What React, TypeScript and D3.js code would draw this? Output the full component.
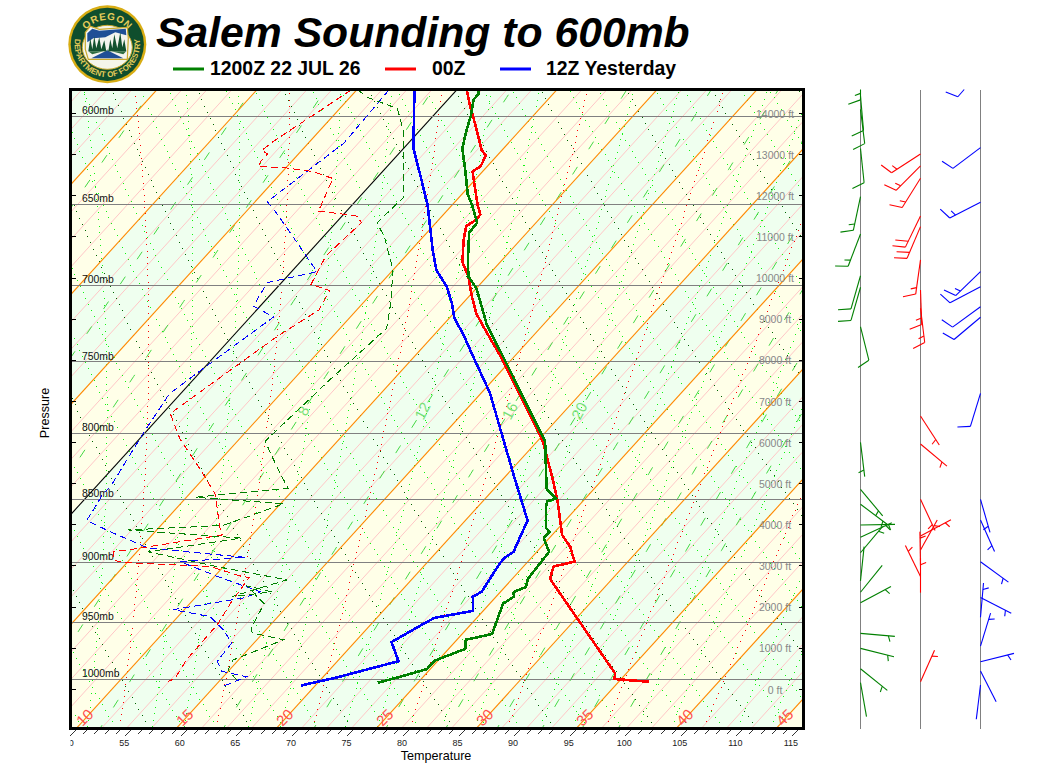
import { useEffect, useRef } from 'react';
import * as d3 from 'd3';

const FONT = '"Liberation Sans", Arial, sans-serif';

// Temperature traces, degrees F by pressure level (mb)
const morningPressure = [586, 588, 591, 600, 608, 618, 630, 644, 650.5, 661, 667, 682, 694, 701.5, 725, 747.5, 806, 835, 842, 849, 851, 856, 872, 875, 880, 891, 913, 920, 924, 928, 934, 960, 965, 973, 983.5, 991, 998, 1003.4];
const morningTemp = [33.9, 34.3, 34.3, 35.4, 36.2, 37.3, 39.3, 41.5, 42.8, 44.7, 44.8, 46.7, 48.3, 50.0, 53.9, 58.2, 68.7, 72.0, 72.8, 74.4, 73.8, 74.2, 75.9, 76.5, 76.5, 78.1, 78.4, 78.9, 78.2, 78.6, 78.2, 79.7, 77.8, 78.5, 76.7, 76.7, 74.9, 73.4];
const eveningPressure = [586, 595, 600, 619, 622, 628, 631, 650.5, 656, 659, 663, 671.5, 685, 694, 707, 718, 729, 747.5, 806, 835, 850, 877.5, 887, 893, 899, 903, 913, 915.5, 995, 1000, 1002.5];
const eveningTemp = [32.9, 34.6, 35.6, 39.2, 40.0, 40.4, 40.1, 43.3, 44.3, 44.4, 44.0, 44.9, 46.6, 48.3, 50.3, 52.1, 54.3, 58.0, 68.5, 72.6, 74.6, 77.9, 79.6, 80.4, 81.2, 79.7, 80.4, 80.8, 94.0, 94.4, 97.7];
const yesterdayPressure = [586, 618, 632, 650.5, 678, 690, 700.5, 711, 721, 731, 747.5, 771.5, 800, 835, 866, 891, 895.5, 900, 924, 928, 940, 946, 951, 967, 984, 998.5, 1006];
const yesterdayTemp = [28.2, 32.9, 35.5, 38.8, 43.0, 44.9, 47.2, 49.0, 50.5, 52.5, 55.5, 59.8, 64.1, 69.2, 73.6, 74.9, 74.6, 74.6, 75.3, 74.9, 76.1, 73.2, 72.7, 71.3, 73.5, 69.3, 66.7];

// Dew point traces
const morningDewPressure = [586, 590, 596, 609, 646, 651.5, 661, 670, 690, 711, 727.5, 762, 806, 827, 841, 848, 853, 870, 873.5, 880, 891, 896, 903, 914, 928, 924, 919, 934, 954, 959, 965, 983, 992, 1001];
const morningDew = [23.1, 24.6, 28.2, 30.7, 36.0, 35.9, 35.7, 37.6, 41.0, 43.5, 45.2, 44.3, 43.5, 47.0, 49.4, 41.8, 50.3, 46.6, 38.4, 49.3, 42.0, 45.1, 49.4, 56.8, 53.2, 56.4, 53.7, 56.7, 57.5, 58.0, 61.4, 58.5, 58.9, 60.5];
const eveningDewPressure = [586, 598, 614, 619, 621, 625, 628, 629, 631, 635, 651.5, 654, 656, 657, 661, 681, 692, 699, 703, 715.5, 733, 766, 786, 804, 827, 846, 871, 877.5, 888, 891, 898, 900, 901, 903, 911, 912, 932, 952, 983, 999.4, 1002.5];
const eveningDew = [22.5, 21.3, 19.7, 19.4, 20.2, 20.2, 20.4, 23.1, 25.7, 28.1, 29.3, 29.4, 32.1, 33.3, 34.3, 33.8, 34.4, 34.8, 37.0, 37.6, 36.0, 33.9, 32.7, 35.6, 40.0, 43.4, 46.4, 47.3, 41.0, 38.9, 39.6, 41.3, 44.1, 48.8, 52.4, 53.2, 53.6, 54.2, 54.3, 54.8, 54.4];
const yesterdayDewPressure = [586, 615, 648.5, 655, 670, 682, 691, 698, 713, 720, 754, 772, 798, 840, 845, 862, 866, 875, 888, 895.5, 899, 911, 924, 929, 939, 945, 956.5, 968, 984, 993, 998, 1007];
const yesterdayDew = [25.9, 26.2, 24.1, 25.8, 29.4, 32.2, 34.3, 30.7, 31.4, 34.1, 32.0, 31.0, 31.8, 33.3, 33.2, 33.8, 33.9, 37.0, 41.7, 51.2, 45.7, 50.2, 55.4, 54.4, 49.0, 52.9, 55.2, 57.0, 57.2, 58.4, 61.1, 59.7];

// Winds: height (ft), direction (deg), speed (kt)
const morningWindFt = [15170, 14425, 14100, 13150, 11980, 11070, 10055, 9775, 8815, 6005, 4860, 4500, 3995, 3695, 3320, 2635, 2360, 2105, 1360, 995, 500, 160];
const morningWindDir = [180, 175, 173, 174, 192, 201, 196, 196, 166, 173, 140, 127, 89, 65, 40, 6, 39, 62, 95, 104, 129, 170];
const morningWindKt = [15, 10, 10, 10, 15, 15, 10, 10, 10, 5, 5, 5, 5, 5, 5, 0, 0, 5, 5, 5, 5, 0];
const eveningWindFt = [13015, 12725, 12425, 11505, 11250, 10440, 9710, 9265, 6645, 5965, 4620, 3730, 3385, 2995, 2740, 2350, 185];
const eveningWindDir = [237, 225, 212, 206, 203, 188, 178, 173, 147, 130, 155, 62, 29, 359, 334, 0, 24];
const eveningWindKt = [15, 15, 15, 20, 20, 15, 15, 15, 5, 5, 5, 5, 5, 5, 5, 5, 5];
const yesterdayWindFt = [15040, 13170, 11840, 10155, 9790, 9300, 9045, 7195, 4620, 4115, 3100, 2230, 1750, 1050, 670, 445, 105];
const yesterdayWindDir = [221, 233, 243, 226, 242, 234, 230, 197, 164, 156, 126, 117, 5, 17, 76, 153, 187];
const yesterdayWindKt = [10, 10, 15, 15, 10, 10, 10, 10, 5, 5, 5, 5, 5, 5, 5, 0, 0];

// Chart furniture
const pressureLevels = [600, 650, 700, 750, 800, 850, 900, 950, 1000];
const altitudeTicks = d3.range(0, 15000, 1000);
const tempTicks = d3.range(50, 116);
const isothermLabels = [10, 15, 20, 25, 30, 35, 40, 45];
const mixingRatios = [2, 3, 4, 6, 8, 12, 16, 20, 24, 28, 32, 36, 40];
const mixingLabels = [8, 12, 16, 20];

const plot = { left: 70.5, right: 803.5, top: 89.5, bottom: 728.5 };
const SKEW = 0.909;

const yScale = d3.scaleLog().domain([1000, 600]).range([679, 116]);
const altScale = d3.scaleLinear().domain([0, 14000]).range([689.3, 113.5]);
const tempScale = d3.scaleLinear().domain([50, 115]).range([76.7, 798.9]);

const cToF = (c: number) => (c * 9) / 5 + 32;
const skewX = (tempF: number, py: number) => tempScale(tempF) + SKEW * (728 - py);
const posF = (tempF: number, p: number): [number, number] => {
  const py = yScale(p);
  return [skewX(tempF, py), py];
};
const posC = (tempC: number, p: number) => posF(cToF(tempC), p);

const P_BOTTOM = 1050;
const P_TOP = 570;
const line = d3.line<[number, number]>();

const satVapor = (c: number) => 6.112 * Math.exp((17.67 * c) / (c + 243.5));

// dry adiabat through potential temperature (C)
function dryAdiabat(theta: number) {
  return d3.range(P_BOTTOM, P_TOP - 1, -10).map((p) => posC((theta + 273.15) * Math.pow(p / 1000, 0.286) - 273.15, p));
}

// moist adiabat, integrated up and down from 1000 mb
function moistAdiabat(thetaW: number) {
  const step = (t: number, p: number, dp: number) => {
    const k = t + 273.15;
    const es = satVapor(t);
    const rs = (0.622 * es) / (p - es);
    const lv = 2.5e6;
    const dT = ((287 * k + lv * rs) / (1004 + (lv * lv * rs * 0.622) / (287 * k * k))) / p;
    return t + dT * dp;
  };
  const pts: [number, number][] = [];
  let t = thetaW;
  for (let p = 1000; p <= P_BOTTOM; p += 5) t = step(t, p, 5);
  for (let p = P_BOTTOM; p >= P_TOP; p -= 5) {
    pts.push(posC(t, p));
    t = step(t, p, -5);
  }
  return pts;
}

function dewPointFor(r: number, p: number) {
  const e = (r * p) / (622 + r);
  const g = Math.log(e / 6.112);
  return (243.5 * g) / (17.67 - g);
}
function mixingLine(r: number) {
  return d3.range(P_BOTTOM, P_TOP - 1, -10).map((p) => posC(dewPointFor(r, p), p));
}

function isotherm(c: number): [number, number][] {
  return [posC(c, P_BOTTOM), posC(c, P_TOP)];
}

// walk along a line and snap a square pixel every `gap` px, dashes lose dots when aliased
function dotPath(pts: [number, number][], gap: number, size = 1) {
  let out = '';
  let next = 0;
  let walked = 0;
  for (let i = 1; i < pts.length; i++) {
    const [x0, y0] = pts[i - 1];
    const [x1, y1] = pts[i];
    const seg = Math.hypot(x1 - x0, y1 - y0);
    while (next <= walked + seg) {
      const f = (next - walked) / seg;
      const x = Math.round(x0 + (x1 - x0) * f);
      const y = Math.round(y0 + (y1 - y0) * f);
      out += `M${x},${y}h${size}v${size}h${-size}z`;
      next += gap;
    }
    walked += seg;
  }
  return out;
}

const zipTrace = (ps: number[], ts: number[]) => ps.map((p, i) => posF(ts[i], p));

const series = [
  { p: yesterdayPressure, t: yesterdayTemp, dp: yesterdayDewPressure, d: yesterdayDew, color: '#0000ff' },
  { p: eveningPressure, t: eveningTemp, dp: eveningDewPressure, d: eveningDew, color: '#ff0000' },
  { p: morningPressure, t: morningTemp, dp: morningDewPressure, d: morningDew, color: '#008000' },
];

const winds = [
  { staff: 860, ft: morningWindFt, dir: morningWindDir, kt: morningWindKt, color: '#008000' },
  { staff: 920, ft: eveningWindFt, dir: eveningWindDir, kt: eveningWindKt, color: '#ff0000' },
  { staff: 980, ft: yesterdayWindFt, dir: yesterdayWindDir, kt: yesterdayWindKt, color: '#0000ff' },
];

const legendItems = [
  { label: '1200Z 22 JUL 26', color: '#008000', x: 173, tx: 210 },
  { label: '00Z', color: '#ff0000', x: 385, tx: 432 },
  { label: '12Z Yesterday', color: '#0000ff', x: 500, tx: 546 },
];

function Logo() {
  return (
    <g transform="translate(107.3,44.3)" fontFamily={FONT} fontWeight="bold">
      <circle r={39} fill="#d8ad14" />
      <circle r={36.6} fill="#0f4e2d" />
      <defs>
        <path id="logoTop" d="M-26.5,2 A26.5,26.5 0 0 1 26.5,2" />
        <path id="logoBottom" d="M-30.6,-11.4 A32.7,32.7 0 1 0 30.6,-11.4" />
      </defs>
      <ellipse rx={25} ry={22} cy={3} fill="#f5f5ea" stroke="#c8a82a" strokeWidth={1} />
      <text fontSize={10} fill="#e4cb5a" letterSpacing={0.6} textAnchor="middle">
        <textPath href="#logoTop" startOffset="50%">OREGON</textPath>
      </text>
      <text fontSize={8} fill="#e4cb5a" textAnchor="middle">
        <textPath href="#logoBottom" startOffset="50%">DEPARTMENT OF FORESTRY</textPath>
      </text>
      <path d="M-22,-12 L-17,-18 L-8,-15 L20,-17 L21,-6 L20,15 L-19,15 L-22,5 Z" fill="#f4f4ee" stroke="#caa92c" strokeWidth={1.2} />
      <path d="M-20,-11 L-15,-15.5 L-8,-13.5 L18.5,-15.5 L19,-9 L8,-12 L-2,-7 L-14,-6 L-20,-2 Z" fill="#1f4f96" />
      <path d="M-16,14 L0,6 L16,14 L0,14 Z" fill="#1f4f96" />
      <path d="M-19,7 L-17,-6 L-15,5 L-13,-8 L-11,4 L-8,-7 L-6,5 L-3,-4 L-1,7 Z" fill="#13512f" />
      <path d="M1,7 L3,-5 L5,4 L7,-10 L10,4 L13,-12 L15,3 L17,-5 L19,7 Z" fill="#13512f" />
      <path d="M-19,7 L-1,7 L0,5 L1,7 L19,7 L16,10 L0,6 L-15,10 Z" fill="#2f6d42" />
    </g>
  );
}

export default function App() {
  const svgRef = useRef<SVGSVGElement>(null);

  useEffect(() => {
    if (!svgRef.current) return;
    const svg = d3.select(svgRef.current);
    svg.select('.chart').remove();
    const root = svg.append('g').attr('class', 'chart').attr('font-family', FONT).attr('shape-rendering', 'crispEdges');

    const defs = root.append('defs');
    defs
      .append('clipPath')
      .attr('id', 'plotClip')
      .append('rect')
      .attr('x', plot.left)
      .attr('y', plot.top)
      .attr('width', plot.right - plot.left)
      .attr('height', plot.bottom - plot.top);
    defs
      .append('clipPath')
      .attr('id', 'tickClip')
      .append('rect')
      .attr('x', plot.left)
      .attr('y', plot.bottom)
      .attr('width', 760)
      .attr('height', 30);

    const g = root.append('g').attr('clip-path', 'url(#plotClip)');

    // Alternating 5C bands
    d3.range(-40, 75, 5).forEach((c) => {
      const lo = isotherm(c);
      const hi = isotherm(c + 5);
      const even = (c + 40) % 10 === 0;
      g.append('path')
        .attr('d', line([lo[0], hi[0], hi[1], lo[1]]) + 'Z')
        .attr('fill', even ? '#efffef' : '#ffffe8');
    });

    // Fine pink isotherms
    d3.range(-40, 75, 1.25).forEach((c) => {
      if (c % 5 === 0) return;
      g.append('path')
        .attr('d', line(isotherm(c)))
        .attr('stroke', '#ffc6c6')
        .attr('stroke-width', 1)
        .attr('shape-rendering', 'auto')
        .attr('fill', 'none');
    });

    // Light dotted adiabats between the main ones
    [5 / 3, 10 / 3].forEach((off) => {
      d3.range(-60, 110, 5).forEach((theta) => {
        g.append('path').attr('d', dotPath(dryAdiabat(theta + off), 6.6)).attr('fill', '#11f511');
      });
      d3.range(-10, 60, 5).forEach((tw) => {
        g.append('path').attr('d', dotPath(moistAdiabat(tw + off), 6.6)).attr('fill', '#11f511');
      });
    });

    // Mixing ratio lines
    mixingRatios.forEach((r) => {
      g.append('path')
        .attr('d', line(mixingLine(r)))
        .attr('stroke', '#44d844')
        .attr('stroke-width', 1)
        .attr('stroke-dasharray', '9 21')
        .attr('shape-rendering', 'auto')
        .attr('fill', 'none');
    });

    // Moist adiabats
    d3.range(5, 55, 5).forEach((tw) => {
      g.append('path').attr('d', dotPath(moistAdiabat(tw), 6.2)).attr('fill', '#ff0000');
    });

    // Dry adiabats
    d3.range(-10, 110, 5).forEach((theta) => {
      g.append('path').attr('d', dotPath(dryAdiabat(theta), 6.8)).attr('fill', '#006400');
    });

    // Isotherms, freezing in black
    d3.range(-40, 75, 5).forEach((c) => {
      g.append('path')
        .attr('d', line(isotherm(c)))
        .attr('stroke', c === 0 ? '#000' : '#ff8800')
        .attr('stroke-width', 1.1)
        .attr('shape-rendering', 'auto')
        .attr('fill', 'none');
    });

    // Pressure levels
    pressureLevels.forEach((p) => {
      g.append('line')
        .attr('x1', plot.left)
        .attr('x2', plot.right)
        .attr('y1', yScale(p))
        .attr('y2', yScale(p))
        .attr('stroke', '#808080')
        .attr('stroke-width', 1);
      g.append('text')
        .attr('x', 82)
        .attr('y', yScale(p) - 2.4)
        .attr('font-size', 10.4)
        .attr('fill', '#111')
        .text(`${p}mb`);
    });

    // Altitude scale
    altitudeTicks.forEach((ft) => {
      const y = altScale(ft);
      g.append('text')
        .attr('x', 775)
        .attr('y', y + 4.2)
        .attr('text-anchor', 'middle')
        .attr('font-size', 10.5)
        .attr('fill', '#888')
        .text(`${ft} ft`);
      root.append('line').attr('x1', plot.left).attr('x2', plot.left + 5).attr('y1', y).attr('y2', y).attr('stroke', '#000');
      root.append('line').attr('x1', plot.right - 5).attr('x2', plot.right).attr('y1', y).attr('y2', y).attr('stroke', '#000');
    });

    // Isotherm labels
    isothermLabels.forEach((c) => {
      const y = 717.5;
      const x = skewX(cToF(c), y) - 1.5;
      g.append('text')
        .attr('transform', `translate(${x},${y}) rotate(-45)`)
        .attr('text-anchor', 'middle')
        .attr('dy', '0.35em')
        .attr('font-size', 15)
        .attr('fill', '#ff5050')
        .text(c);
    });

    // Mixing ratio labels
    mixingLabels.forEach((r) => {
      const p = 784;
      const [x, y] = posC(dewPointFor(r, p), p);
      g.append('text')
        .attr('transform', `translate(${x},${y}) rotate(-62)`)
        .attr('text-anchor', 'middle')
        .attr('dy', '0.35em')
        .attr('font-size', 15)
        .attr('fill', '#77e077')
        .text(r);
    });

    // Soundings
    series.forEach((s) => {
      g.append('path')
        .attr('d', line(zipTrace(s.dp, s.d)))
        .attr('stroke', s.color)
        .attr('stroke-width', 1)
        .attr('stroke-dasharray', '7 4')
        .attr('fill', 'none');
    });
    series.forEach((s) => {
      g.append('path')
        .attr('d', line(zipTrace(s.p, s.t)))
        .attr('stroke', s.color)
        .attr('stroke-width', 2.6)
        .attr('stroke-linejoin', 'round')
        .attr('fill', 'none');
    });

    // Frame
    root
      .append('rect')
      .attr('x', plot.left)
      .attr('y', plot.top)
      .attr('width', plot.right - plot.left)
      .attr('height', plot.bottom - plot.top)
      .attr('fill', 'none')
      .attr('stroke', '#000')
      .attr('stroke-width', 2.4);

    // Bottom axis with slanted ticks
    const axis = root.append('g').attr('clip-path', 'url(#tickClip)');
    tempTicks.forEach((t) => {
      const x = tempScale(t);
      const len = t % 5 === 0 ? 7 : 5;
      root.append('line').attr('x1', x).attr('y1', 729).attr('x2', x - len).attr('y2', 729 + len).attr('stroke', '#000').attr('stroke-width', 0.8);
      if (t % 5 === 0) {
        axis
          .append('text')
          .attr('x', x - 8)
          .attr('y', 746)
          .attr('text-anchor', 'middle')
          .attr('font-size', 9)
          .attr('fill', '#222')
          .text(t);
      }
    });

    root.append('text').attr('x', 436).attr('y', 760).attr('text-anchor', 'middle').attr('font-size', 12.6).text('Temperature');
    root
      .append('text')
      .attr('transform', 'translate(49,413) rotate(-90)')
      .attr('text-anchor', 'middle')
      .attr('font-size', 12.6)
      .text('Pressure');

    // Wind barbs
    const barbs = root.append('g').attr('class', 'barbs');
    winds.forEach((w) => {
      barbs
        .append('line')
        .attr('x1', w.staff + 0.5)
        .attr('x2', w.staff + 0.5)
        .attr('y1', plot.top)
        .attr('y2', plot.bottom)
        .attr('stroke', '#808080')
        .attr('stroke-width', 1);
      const layer = barbs.append('g').attr('stroke', w.color).attr('stroke-width', 1.1).attr('shape-rendering', 'auto').attr('fill', 'none');
      w.ft.forEach((ft, i) => {
        const a = (w.dir[i] * Math.PI) / 180;
        const x0 = w.staff + 0.5;
        const y0 = altScale(ft);
        const ux = Math.sin(a);
        const uy = -Math.cos(a);
        const L = 34.5;
        const segs: [number, number][][] = [];
        const sx = (s: number) => x0 + ux * s;
        const sy = (s: number) => y0 + uy * s;
        const push = (s: number, r: number) => {
          const b = Math.atan2(uy, ux) + (70 * Math.PI) / 180;
          const px = sx(s);
          const py = sy(s);
          const q: [number, number][] = [
            [px, py],
            [px + Math.cos(b) * r, py + Math.sin(b) * r],
          ];
          if (py >= plot.top) segs.push(q);
        };
        // shafts rising above the frame get cut at its top edge
        const t0 = Math.max(0, (plot.top - y0) / (uy || 1));
        const start: [number, number] = y0 < plot.top ? [sx(t0), plot.top] : [x0, y0];
        segs.push([start, [sx(L), sy(L)]]);
        let s = L;
        let kt = w.kt[i];
        while (kt >= 10) {
          push(s, 13);
          s -= 6.5;
          kt -= 10;
        }
        if (kt >= 5) push(L === s ? L - 6.5 : s, 6);
        segs.forEach((q) => layer.append('path').attr('d', line(q)));
      });
    });
  }, []);

  return (
    <svg ref={svgRef} width={1060} height={768} style={{ position: 'absolute', left: 0, top: 0, background: '#fff' }}>
      <Logo />
      <text x={156} y={47} fontFamily={FONT} fontSize={42.7} fontWeight="bold" fontStyle="italic" fill="#000">
        Salem Sounding to 600mb
      </text>
      {legendItems.map((d) => (
        <g key={d.label}>
          <line x1={d.x} x2={d.x + 31} y1={69} y2={69} stroke={d.color} strokeWidth={3} />
          <text x={d.tx} y={75} fontFamily={FONT} fontSize={19.4} fontWeight="bold" fill="#000">
            {d.label}
          </text>
        </g>
      ))}
    </svg>
  );
}
